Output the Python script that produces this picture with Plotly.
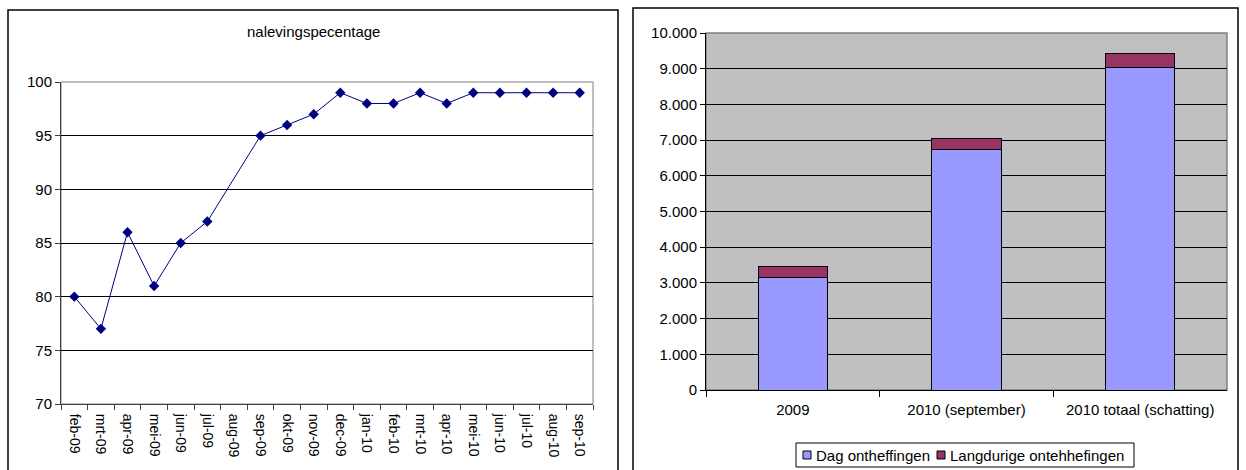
import plotly.graph_objects as go

W, H = 1246, 470

# Left chart: monthly compliance percentage
months = ["feb-09", "mrt-09", "apr-09", "mei-09", "jun-09", "jul-09", "aug-09",
          "sep-09", "okt-09", "nov-09", "dec-09", "jan-10", "feb-10", "mrt-10",
          "apr-10", "mei-10", "jun-10", "jul-10", "aug-10", "sep-10"]
naleving = [80, 77, 86, 81, 85, 87, None, 95, 96, 97, 99, 98, 98, 99, 98,
            99, 99, 99, 99, 99]

# Right chart: number of exemptions
periods = ["2009", "2010 (september)", "2010 totaal (schatting)"]
dag = [3150, 6740, 9020]
langdurig = [300, 300, 410]
series_names = ["Dag ontheffingen", "Langdurige ontehhefingen"]
series_colors = ["#9999FF", "#993366"]

FONT = "Liberation Sans, Arial, sans-serif"


def px_x(v):
    return v / W


def px_y(v):
    return (H - v) / H


fig = go.Figure()

fig.add_trace(go.Scatter(
    x=months, y=naleving, mode="lines+markers", connectgaps=True,
    line=dict(color="#000080", width=1),
    marker=dict(symbol="diamond", size=8, color="#000080"),
    showlegend=False, xaxis="x", yaxis="y",
))

for vals, name, col in zip([dag, langdurig], series_names, series_colors):
    fig.add_trace(go.Bar(
        x=periods, y=vals, name=name, width=0.4, showlegend=False,
        marker=dict(color=col, line=dict(color="#000000", width=1)),
        xaxis="x2", yaxis="y2",
    ))

# plot areas in pixels
L = dict(x0=61, x1=593, y0=82, y1=404)
R = dict(x0=706, x1=1227, y0=33, y1=390)

fig.update_layout(
    width=W, height=H,
    margin=dict(l=0, r=0, t=0, b=0, autoexpand=False),
    paper_bgcolor="white",
    plot_bgcolor="white",
    separators=",.",
    barmode="stack",
    font=dict(family=FONT, size=14, color="#000000"),
    xaxis=dict(
        domain=[px_x(L["x0"]), px_x(L["x1"])],
        anchor="y", type="category", range=[-0.5, 19.5],
        tickson="boundaries", ticks="outside", ticklen=5, tickcolor="#404040",
        tickangle=90, tickfont=dict(size=14), ticklabelstandoff=6,
        showline=True, linecolor="#404040", linewidth=1,
        showgrid=False, zeroline=False, fixedrange=True,
    ),
    yaxis=dict(
        domain=[px_y(L["y1"]), px_y(L["y0"])],
        anchor="x", range=[70, 100], dtick=5,
        ticks="outside", ticklen=5, tickcolor="#404040",
        tickfont=dict(size=15),
        showline=True, linecolor="#404040", linewidth=1,
        showgrid=True, gridcolor="#000000", gridwidth=1,
        zeroline=False, fixedrange=True,
    ),
    xaxis2=dict(
        domain=[px_x(R["x0"]), px_x(R["x1"])],
        anchor="y2", type="category", range=[-0.5, 2.5],
        tickson="boundaries", ticks="outside", ticklen=6, tickcolor="#000000",
        tickfont=dict(size=15), ticklabelstandoff=6,
        showline=True, linecolor="#000000", linewidth=1,
        showgrid=False, zeroline=False, fixedrange=True,
    ),
    yaxis2=dict(
        domain=[px_y(R["y1"]), px_y(R["y0"])],
        anchor="x2", range=[0, 10000], dtick=1000, tickformat=",d",
        ticks="outside", ticklen=5, tickcolor="#000000",
        tickfont=dict(size=15),
        showline=True, linecolor="#000000", linewidth=1,
        showgrid=True, gridcolor="#000000", gridwidth=1,
        zeroline=False, fixedrange=True,
    ),
)

shapes = []
# grey frame around the left plot area (top and right edges)
shapes.append(dict(type="rect", xref="paper", yref="paper",
                   x0=px_x(L["x0"]), x1=px_x(L["x1"]),
                   y0=px_y(L["y1"]), y1=px_y(L["y0"]),
                   line=dict(color="#808080", width=1), layer="below"))
# grey background panel behind the bars
shapes.append(dict(type="rect", xref="paper", yref="paper",
                   x0=px_x(R["x0"]), x1=px_x(R["x1"]),
                   y0=px_y(R["y1"]), y1=px_y(R["y0"]),
                   fillcolor="#C0C0C0", line=dict(color="#808080", width=1.5),
                   layer="below"))
# outer chart frames
shapes.append(dict(type="rect", xref="paper", yref="paper",
                   x0=px_x(8), x1=px_x(618), y0=-0.2, y1=px_y(10),
                   line=dict(color="#000000", width=1.5)))
shapes.append(dict(type="rect", xref="paper", yref="paper",
                   x0=px_x(633), x1=px_x(1238), y0=-0.2, y1=px_y(8),
                   line=dict(color="#000000", width=1.5)))

# compact legend box below the bar chart
LEG = dict(x0=796, x1=1134, y0=443, y1=467)
shapes.append(dict(type="rect", xref="paper", yref="paper",
                   x0=px_x(LEG["x0"]), x1=px_x(LEG["x1"]),
                   y0=px_y(LEG["y1"]), y1=px_y(LEG["y0"]),
                   fillcolor="white", line=dict(color="#000000", width=1)))
ymid = (LEG["y0"] + LEG["y1"]) / 2
swatch_x = [803, 937]
for sx, name, col in zip(swatch_x, series_names, series_colors):
    shapes.append(dict(type="rect", xref="paper", yref="paper",
                       x0=px_x(sx), x1=px_x(sx + 8),
                       y0=px_y(ymid + 4), y1=px_y(ymid - 4),
                       fillcolor=col, line=dict(color="#000000", width=1)))
    fig.add_annotation(
        text=name, xref="paper", yref="paper",
        x=px_x(sx + 11), y=px_y(ymid), xanchor="left", yanchor="middle",
        showarrow=False, font=dict(size=15),
    )

fig.update_layout(shapes=shapes)

fig.add_annotation(
    text="nalevingspecentage", xref="paper", yref="paper",
    x=px_x(313), y=px_y(32), xanchor="center", yanchor="middle",
    showarrow=False, font=dict(size=15),
)

fig.write_html("out.html")
